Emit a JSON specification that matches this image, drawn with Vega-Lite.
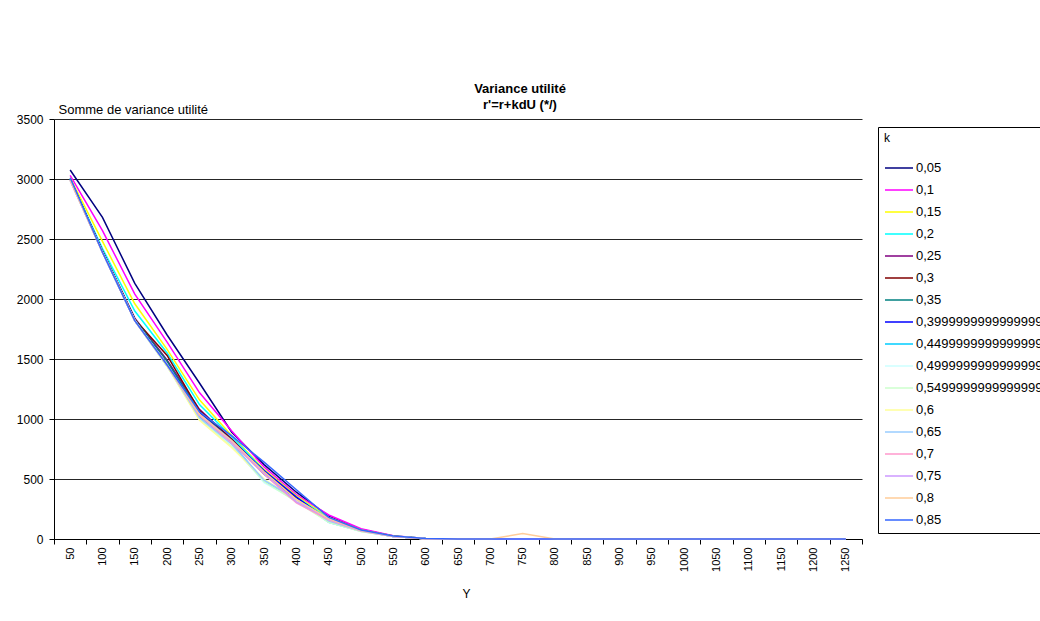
{
  "$schema": "https://vega.github.io/schema/vega-lite/v6.json",
  "autosize": {"type": "none"},
  "padding": {"left": 54, "top": 119, "right": 178, "bottom": 82},
  "width": 808,
  "height": 420,
  "background": "white",
  "config": {
    "font": "Liberation Sans",
    "view": {"stroke": null}
  },
  "title": {
    "text": ["Variance utilité", "r'=r+kdU (*/)"],
    "fontSize": 13,
    "fontWeight": "bold",
    "font": "Liberation Sans",
    "anchor": "middle",
    "frame": "group",
    "dx": 62,
    "offset": -9,
    "lineHeight": 16,
    "color": "black"
  },
  "data": {"values": [
{"k":"0,05","Y":50,"v":3075},{"k":"0,05","Y":100,"v":2680},{"k":"0,05","Y":150,"v":2130},{"k":"0,05","Y":200,"v":1700},{"k":"0,05","Y":250,"v":1300},{"k":"0,05","Y":300,"v":890},{"k":"0,05","Y":350,"v":620},{"k":"0,05","Y":400,"v":390},{"k":"0,05","Y":450,"v":190},{"k":"0,05","Y":500,"v":80},{"k":"0,05","Y":550,"v":25},{"k":"0,05","Y":600,"v":5},{"k":"0,05","Y":650,"v":0},{"k":"0,05","Y":700,"v":0},{"k":"0,05","Y":750,"v":0},{"k":"0,05","Y":800,"v":0},{"k":"0,05","Y":850,"v":0},{"k":"0,05","Y":900,"v":0},{"k":"0,05","Y":950,"v":0},{"k":"0,05","Y":1000,"v":0},{"k":"0,05","Y":1050,"v":0},{"k":"0,05","Y":1100,"v":0},{"k":"0,05","Y":1150,"v":0},{"k":"0,05","Y":1200,"v":0},{"k":"0,05","Y":1250,"v":0},
{"k":"0,1","Y":50,"v":3030},{"k":"0,1","Y":100,"v":2570},{"k":"0,1","Y":150,"v":2040},{"k":"0,1","Y":200,"v":1640},{"k":"0,1","Y":250,"v":1220},{"k":"0,1","Y":300,"v":900},{"k":"0,1","Y":350,"v":600},{"k":"0,1","Y":400,"v":370},{"k":"0,1","Y":450,"v":200},{"k":"0,1","Y":500,"v":85},{"k":"0,1","Y":550,"v":28},{"k":"0,1","Y":600,"v":5},{"k":"0,1","Y":650,"v":0},{"k":"0,1","Y":700,"v":0},{"k":"0,1","Y":750,"v":0},{"k":"0,1","Y":800,"v":0},{"k":"0,1","Y":850,"v":0},{"k":"0,1","Y":900,"v":0},{"k":"0,1","Y":950,"v":0},{"k":"0,1","Y":1000,"v":0},{"k":"0,1","Y":1050,"v":0},{"k":"0,1","Y":1100,"v":0},{"k":"0,1","Y":1150,"v":0},{"k":"0,1","Y":1200,"v":0},{"k":"0,1","Y":1250,"v":0},
{"k":"0,15","Y":50,"v":3010},{"k":"0,15","Y":100,"v":2480},{"k":"0,15","Y":150,"v":1960},{"k":"0,15","Y":200,"v":1580},{"k":"0,15","Y":250,"v":1160},{"k":"0,15","Y":300,"v":860},{"k":"0,15","Y":350,"v":580},{"k":"0,15","Y":400,"v":360},{"k":"0,15","Y":450,"v":180},{"k":"0,15","Y":500,"v":75},{"k":"0,15","Y":550,"v":25},{"k":"0,15","Y":600,"v":4},{"k":"0,15","Y":650,"v":0},{"k":"0,15","Y":700,"v":0},{"k":"0,15","Y":750,"v":0},{"k":"0,15","Y":800,"v":0},{"k":"0,15","Y":850,"v":0},{"k":"0,15","Y":900,"v":0},{"k":"0,15","Y":950,"v":0},{"k":"0,15","Y":1000,"v":0},{"k":"0,15","Y":1050,"v":0},{"k":"0,15","Y":1100,"v":0},{"k":"0,15","Y":1150,"v":0},{"k":"0,15","Y":1200,"v":0},{"k":"0,15","Y":1250,"v":0},
{"k":"0,2","Y":50,"v":3000},{"k":"0,2","Y":100,"v":2420},{"k":"0,2","Y":150,"v":1900},{"k":"0,2","Y":200,"v":1550},{"k":"0,2","Y":250,"v":1120},{"k":"0,2","Y":300,"v":850},{"k":"0,2","Y":350,"v":570},{"k":"0,2","Y":400,"v":350},{"k":"0,2","Y":450,"v":170},{"k":"0,2","Y":500,"v":72},{"k":"0,2","Y":550,"v":24},{"k":"0,2","Y":600,"v":4},{"k":"0,2","Y":650,"v":0},{"k":"0,2","Y":700,"v":0},{"k":"0,2","Y":750,"v":0},{"k":"0,2","Y":800,"v":0},{"k":"0,2","Y":850,"v":0},{"k":"0,2","Y":900,"v":0},{"k":"0,2","Y":950,"v":0},{"k":"0,2","Y":1000,"v":0},{"k":"0,2","Y":1050,"v":0},{"k":"0,2","Y":1100,"v":0},{"k":"0,2","Y":1150,"v":0},{"k":"0,2","Y":1200,"v":0},{"k":"0,2","Y":1250,"v":0},
{"k":"0,25","Y":50,"v":3000},{"k":"0,25","Y":100,"v":2400},{"k":"0,25","Y":150,"v":1840},{"k":"0,25","Y":200,"v":1490},{"k":"0,25","Y":250,"v":1080},{"k":"0,25","Y":300,"v":830},{"k":"0,25","Y":350,"v":560},{"k":"0,25","Y":400,"v":340},{"k":"0,25","Y":450,"v":160},{"k":"0,25","Y":500,"v":70},{"k":"0,25","Y":550,"v":22},{"k":"0,25","Y":600,"v":3},{"k":"0,25","Y":650,"v":0},{"k":"0,25","Y":700,"v":0},{"k":"0,25","Y":750,"v":0},{"k":"0,25","Y":800,"v":0},{"k":"0,25","Y":850,"v":0},{"k":"0,25","Y":900,"v":0},{"k":"0,25","Y":950,"v":0},{"k":"0,25","Y":1000,"v":0},{"k":"0,25","Y":1050,"v":0},{"k":"0,25","Y":1100,"v":0},{"k":"0,25","Y":1150,"v":0},{"k":"0,25","Y":1200,"v":0},{"k":"0,25","Y":1250,"v":0},
{"k":"0,3","Y":50,"v":3000},{"k":"0,3","Y":100,"v":2400},{"k":"0,3","Y":150,"v":1830},{"k":"0,3","Y":200,"v":1530},{"k":"0,3","Y":250,"v":1070},{"k":"0,3","Y":300,"v":830},{"k":"0,3","Y":350,"v":550},{"k":"0,3","Y":400,"v":340},{"k":"0,3","Y":450,"v":160},{"k":"0,3","Y":500,"v":70},{"k":"0,3","Y":550,"v":22},{"k":"0,3","Y":600,"v":3},{"k":"0,3","Y":650,"v":0},{"k":"0,3","Y":700,"v":0},{"k":"0,3","Y":750,"v":0},{"k":"0,3","Y":800,"v":0},{"k":"0,3","Y":850,"v":0},{"k":"0,3","Y":900,"v":0},{"k":"0,3","Y":950,"v":0},{"k":"0,3","Y":1000,"v":0},{"k":"0,3","Y":1050,"v":0},{"k":"0,3","Y":1100,"v":0},{"k":"0,3","Y":1150,"v":0},{"k":"0,3","Y":1200,"v":0},{"k":"0,3","Y":1250,"v":0},
{"k":"0,35","Y":50,"v":3000},{"k":"0,35","Y":100,"v":2400},{"k":"0,35","Y":150,"v":1830},{"k":"0,35","Y":200,"v":1480},{"k":"0,35","Y":250,"v":1060},{"k":"0,35","Y":300,"v":820},{"k":"0,35","Y":350,"v":540},{"k":"0,35","Y":400,"v":330},{"k":"0,35","Y":450,"v":150},{"k":"0,35","Y":500,"v":68},{"k":"0,35","Y":550,"v":20},{"k":"0,35","Y":600,"v":3},{"k":"0,35","Y":650,"v":0},{"k":"0,35","Y":700,"v":0},{"k":"0,35","Y":750,"v":0},{"k":"0,35","Y":800,"v":0},{"k":"0,35","Y":850,"v":0},{"k":"0,35","Y":900,"v":0},{"k":"0,35","Y":950,"v":0},{"k":"0,35","Y":1000,"v":0},{"k":"0,35","Y":1050,"v":0},{"k":"0,35","Y":1100,"v":0},{"k":"0,35","Y":1150,"v":0},{"k":"0,35","Y":1200,"v":0},{"k":"0,35","Y":1250,"v":0},
{"k":"0,39999999999999997","Y":50,"v":3000},{"k":"0,39999999999999997","Y":100,"v":2390},{"k":"0,39999999999999997","Y":150,"v":1820},{"k":"0,39999999999999997","Y":200,"v":1450},{"k":"0,39999999999999997","Y":250,"v":1050},{"k":"0,39999999999999997","Y":300,"v":820},{"k":"0,39999999999999997","Y":350,"v":570},{"k":"0,39999999999999997","Y":400,"v":350},{"k":"0,39999999999999997","Y":450,"v":150},{"k":"0,39999999999999997","Y":500,"v":70},{"k":"0,39999999999999997","Y":550,"v":20},{"k":"0,39999999999999997","Y":600,"v":3},{"k":"0,39999999999999997","Y":650,"v":0},{"k":"0,39999999999999997","Y":700,"v":0},{"k":"0,39999999999999997","Y":750,"v":0},{"k":"0,39999999999999997","Y":800,"v":0},{"k":"0,39999999999999997","Y":850,"v":0},{"k":"0,39999999999999997","Y":900,"v":0},{"k":"0,39999999999999997","Y":950,"v":0},{"k":"0,39999999999999997","Y":1000,"v":0},{"k":"0,39999999999999997","Y":1050,"v":0},{"k":"0,39999999999999997","Y":1100,"v":0},{"k":"0,39999999999999997","Y":1150,"v":0},{"k":"0,39999999999999997","Y":1200,"v":0},{"k":"0,39999999999999997","Y":1250,"v":0},
{"k":"0,44999999999999996","Y":50,"v":3000},{"k":"0,44999999999999996","Y":100,"v":2390},{"k":"0,44999999999999996","Y":150,"v":1820},{"k":"0,44999999999999996","Y":200,"v":1440},{"k":"0,44999999999999996","Y":250,"v":1020},{"k":"0,44999999999999996","Y":300,"v":800},{"k":"0,44999999999999996","Y":350,"v":480},{"k":"0,44999999999999996","Y":400,"v":330},{"k":"0,44999999999999996","Y":450,"v":140},{"k":"0,44999999999999996","Y":500,"v":65},{"k":"0,44999999999999996","Y":550,"v":20},{"k":"0,44999999999999996","Y":600,"v":3},{"k":"0,44999999999999996","Y":650,"v":0},{"k":"0,44999999999999996","Y":700,"v":0},{"k":"0,44999999999999996","Y":750,"v":0},{"k":"0,44999999999999996","Y":800,"v":0},{"k":"0,44999999999999996","Y":850,"v":0},{"k":"0,44999999999999996","Y":900,"v":0},{"k":"0,44999999999999996","Y":950,"v":0},{"k":"0,44999999999999996","Y":1000,"v":0},{"k":"0,44999999999999996","Y":1050,"v":0},{"k":"0,44999999999999996","Y":1100,"v":0},{"k":"0,44999999999999996","Y":1150,"v":0},{"k":"0,44999999999999996","Y":1200,"v":0},{"k":"0,44999999999999996","Y":1250,"v":0},
{"k":"0,49999999999999994","Y":50,"v":2990},{"k":"0,49999999999999994","Y":100,"v":2390},{"k":"0,49999999999999994","Y":150,"v":1820},{"k":"0,49999999999999994","Y":200,"v":1440},{"k":"0,49999999999999994","Y":250,"v":1000},{"k":"0,49999999999999994","Y":300,"v":790},{"k":"0,49999999999999994","Y":350,"v":470},{"k":"0,49999999999999994","Y":400,"v":320},{"k":"0,49999999999999994","Y":450,"v":140},{"k":"0,49999999999999994","Y":500,"v":65},{"k":"0,49999999999999994","Y":550,"v":20},{"k":"0,49999999999999994","Y":600,"v":3},{"k":"0,49999999999999994","Y":650,"v":0},{"k":"0,49999999999999994","Y":700,"v":0},{"k":"0,49999999999999994","Y":750,"v":0},{"k":"0,49999999999999994","Y":800,"v":0},{"k":"0,49999999999999994","Y":850,"v":0},{"k":"0,49999999999999994","Y":900,"v":0},{"k":"0,49999999999999994","Y":950,"v":0},{"k":"0,49999999999999994","Y":1000,"v":0},{"k":"0,49999999999999994","Y":1050,"v":0},{"k":"0,49999999999999994","Y":1100,"v":0},{"k":"0,49999999999999994","Y":1150,"v":0},{"k":"0,49999999999999994","Y":1200,"v":0},{"k":"0,49999999999999994","Y":1250,"v":0},
{"k":"0,54999999999999993","Y":50,"v":2990},{"k":"0,54999999999999993","Y":100,"v":2390},{"k":"0,54999999999999993","Y":150,"v":1820},{"k":"0,54999999999999993","Y":200,"v":1440},{"k":"0,54999999999999993","Y":250,"v":1000},{"k":"0,54999999999999993","Y":300,"v":770},{"k":"0,54999999999999993","Y":350,"v":480},{"k":"0,54999999999999993","Y":400,"v":310},{"k":"0,54999999999999993","Y":450,"v":140},{"k":"0,54999999999999993","Y":500,"v":62},{"k":"0,54999999999999993","Y":550,"v":20},{"k":"0,54999999999999993","Y":600,"v":3},{"k":"0,54999999999999993","Y":650,"v":0},{"k":"0,54999999999999993","Y":700,"v":0},{"k":"0,54999999999999993","Y":750,"v":0},{"k":"0,54999999999999993","Y":800,"v":0},{"k":"0,54999999999999993","Y":850,"v":0},{"k":"0,54999999999999993","Y":900,"v":0},{"k":"0,54999999999999993","Y":950,"v":0},{"k":"0,54999999999999993","Y":1000,"v":0},{"k":"0,54999999999999993","Y":1050,"v":0},{"k":"0,54999999999999993","Y":1100,"v":0},{"k":"0,54999999999999993","Y":1150,"v":0},{"k":"0,54999999999999993","Y":1200,"v":0},{"k":"0,54999999999999993","Y":1250,"v":0},
{"k":"0,6","Y":50,"v":2990},{"k":"0,6","Y":100,"v":2390},{"k":"0,6","Y":150,"v":1820},{"k":"0,6","Y":200,"v":1440},{"k":"0,6","Y":250,"v":990},{"k":"0,6","Y":300,"v":760},{"k":"0,6","Y":350,"v":500},{"k":"0,6","Y":400,"v":320},{"k":"0,6","Y":450,"v":150},{"k":"0,6","Y":500,"v":65},{"k":"0,6","Y":550,"v":20},{"k":"0,6","Y":600,"v":3},{"k":"0,6","Y":650,"v":0},{"k":"0,6","Y":700,"v":0},{"k":"0,6","Y":750,"v":0},{"k":"0,6","Y":800,"v":0},{"k":"0,6","Y":850,"v":0},{"k":"0,6","Y":900,"v":0},{"k":"0,6","Y":950,"v":0},{"k":"0,6","Y":1000,"v":0},{"k":"0,6","Y":1050,"v":0},{"k":"0,6","Y":1100,"v":0},{"k":"0,6","Y":1150,"v":0},{"k":"0,6","Y":1200,"v":0},{"k":"0,6","Y":1250,"v":0},
{"k":"0,65","Y":50,"v":2990},{"k":"0,65","Y":100,"v":2390},{"k":"0,65","Y":150,"v":1820},{"k":"0,65","Y":200,"v":1450},{"k":"0,65","Y":250,"v":1010},{"k":"0,65","Y":300,"v":790},{"k":"0,65","Y":350,"v":490},{"k":"0,65","Y":400,"v":330},{"k":"0,65","Y":450,"v":150},{"k":"0,65","Y":500,"v":66},{"k":"0,65","Y":550,"v":20},{"k":"0,65","Y":600,"v":3},{"k":"0,65","Y":650,"v":0},{"k":"0,65","Y":700,"v":0},{"k":"0,65","Y":750,"v":0},{"k":"0,65","Y":800,"v":0},{"k":"0,65","Y":850,"v":0},{"k":"0,65","Y":900,"v":0},{"k":"0,65","Y":950,"v":0},{"k":"0,65","Y":1000,"v":0},{"k":"0,65","Y":1050,"v":0},{"k":"0,65","Y":1100,"v":0},{"k":"0,65","Y":1150,"v":0},{"k":"0,65","Y":1200,"v":0},{"k":"0,65","Y":1250,"v":0},
{"k":"0,7","Y":50,"v":2990},{"k":"0,7","Y":100,"v":2390},{"k":"0,7","Y":150,"v":1820},{"k":"0,7","Y":200,"v":1450},{"k":"0,7","Y":250,"v":1030},{"k":"0,7","Y":300,"v":800},{"k":"0,7","Y":350,"v":540},{"k":"0,7","Y":400,"v":300},{"k":"0,7","Y":450,"v":160},{"k":"0,7","Y":500,"v":68},{"k":"0,7","Y":550,"v":20},{"k":"0,7","Y":600,"v":3},{"k":"0,7","Y":650,"v":0},{"k":"0,7","Y":700,"v":0},{"k":"0,7","Y":750,"v":0},{"k":"0,7","Y":800,"v":0},{"k":"0,7","Y":850,"v":0},{"k":"0,7","Y":900,"v":0},{"k":"0,7","Y":950,"v":0},{"k":"0,7","Y":1000,"v":0},{"k":"0,7","Y":1050,"v":0},{"k":"0,7","Y":1100,"v":0},{"k":"0,7","Y":1150,"v":0},{"k":"0,7","Y":1200,"v":0},{"k":"0,7","Y":1250,"v":0},
{"k":"0,75","Y":50,"v":2990},{"k":"0,75","Y":100,"v":2390},{"k":"0,75","Y":150,"v":1820},{"k":"0,75","Y":200,"v":1450},{"k":"0,75","Y":250,"v":1040},{"k":"0,75","Y":300,"v":810},{"k":"0,75","Y":350,"v":550},{"k":"0,75","Y":400,"v":310},{"k":"0,75","Y":450,"v":170},{"k":"0,75","Y":500,"v":70},{"k":"0,75","Y":550,"v":20},{"k":"0,75","Y":600,"v":3},{"k":"0,75","Y":650,"v":0},{"k":"0,75","Y":700,"v":0},{"k":"0,75","Y":750,"v":0},{"k":"0,75","Y":800,"v":0},{"k":"0,75","Y":850,"v":0},{"k":"0,75","Y":900,"v":0},{"k":"0,75","Y":950,"v":0},{"k":"0,75","Y":1000,"v":0},{"k":"0,75","Y":1050,"v":0},{"k":"0,75","Y":1100,"v":0},{"k":"0,75","Y":1150,"v":0},{"k":"0,75","Y":1200,"v":0},{"k":"0,75","Y":1250,"v":0},
{"k":"0,8","Y":50,"v":2990},{"k":"0,8","Y":100,"v":2390},{"k":"0,8","Y":150,"v":1820},{"k":"0,8","Y":200,"v":1450},{"k":"0,8","Y":250,"v":1040},{"k":"0,8","Y":300,"v":820},{"k":"0,8","Y":350,"v":560},{"k":"0,8","Y":400,"v":330},{"k":"0,8","Y":450,"v":170},{"k":"0,8","Y":500,"v":70},{"k":"0,8","Y":550,"v":22},{"k":"0,8","Y":600,"v":3},{"k":"0,8","Y":650,"v":0},{"k":"0,8","Y":700,"v":0},{"k":"0,8","Y":750,"v":45},{"k":"0,8","Y":800,"v":0},{"k":"0,8","Y":850,"v":0},{"k":"0,8","Y":900,"v":0},{"k":"0,8","Y":950,"v":0},{"k":"0,8","Y":1000,"v":0},{"k":"0,8","Y":1050,"v":0},{"k":"0,8","Y":1100,"v":0},{"k":"0,8","Y":1150,"v":0},{"k":"0,8","Y":1200,"v":0},{"k":"0,8","Y":1250,"v":0},
{"k":"0,85","Y":50,"v":3010},{"k":"0,85","Y":100,"v":2390},{"k":"0,85","Y":150,"v":1820},{"k":"0,85","Y":200,"v":1450},{"k":"0,85","Y":250,"v":1060},{"k":"0,85","Y":300,"v":860},{"k":"0,85","Y":350,"v":640},{"k":"0,85","Y":400,"v":410},{"k":"0,85","Y":450,"v":180},{"k":"0,85","Y":500,"v":75},{"k":"0,85","Y":550,"v":25},{"k":"0,85","Y":600,"v":4},{"k":"0,85","Y":650,"v":0},{"k":"0,85","Y":700,"v":0},{"k":"0,85","Y":750,"v":0},{"k":"0,85","Y":800,"v":0},{"k":"0,85","Y":850,"v":0},{"k":"0,85","Y":900,"v":0},{"k":"0,85","Y":950,"v":0},{"k":"0,85","Y":1000,"v":0},{"k":"0,85","Y":1050,"v":0},{"k":"0,85","Y":1100,"v":0},{"k":"0,85","Y":1150,"v":0},{"k":"0,85","Y":1200,"v":0},{"k":"0,85","Y":1250,"v":0}
  ]},
  "mark": {"type": "line", "strokeWidth": 1.5, "clip": false},
  "encoding": {
    "x": {
      "field": "Y", "type": "ordinal", "sort": "ascending",
      "scale": {"paddingInner": 0, "paddingOuter": 0},
      "axis": {
        "title": "Y", "titleFontSize": 12, "titleFontWeight": "normal", "titleColor": "black",
        "titleX": 412, "titleY": 54, "titleBaseline": "middle", "titleAlign": "center",
        "labelAngle": -90, "labelFontSize": 11, "labelColor": "black", "labelPadding": 3,
        "domainColor": "black", "tickColor": "black", "tickSize": 5, "tickBand": "extent",
        "grid": false
      }
    },
    "y": {
      "field": "v", "type": "quantitative",
      "scale": {"domain": [0, 3500], "nice": false},
      "axis": {
        "values": [0, 500, 1000, 1500, 2000, 2500, 3000, 3500],
        "format": "d",
        "title": "Somme de variance utilité", "titleAngle": 0, "titleFontSize": 13, "titleFontWeight": "normal", "titleColor": "black",
        "titleX": 4, "titleY": -3, "titleAlign": "left", "titleBaseline": "bottom",
        "labelFontSize": 12, "labelColor": "black", "labelPadding": 6,
        "domainColor": "black", "tickColor": "black", "tickSize": 5,
        "grid": true, "gridColor": "black", "gridOpacity": 0.85
      }
    },
    "color": {
      "field": "k", "type": "nominal",
      "scale": {
        "domain": ["0,05","0,1","0,15","0,2","0,25","0,3","0,35","0,39999999999999997","0,44999999999999996","0,49999999999999994","0,54999999999999993","0,6","0,65","0,7","0,75","0,8","0,85"],
        "range": ["#000080","#FF00FF","#FFFF00","#00FFFF","#800080","#800000","#008080","#0000FF","#00CCFF","#CCFFFF","#CCFFCC","#FFFF99","#99CCFF","#FF99CC","#CC99FF","#FFCC99","#3366FF"]
      },
      "legend": {
        "orient": "none", "legendX": 824, "legendY": 8,
        "title": "k", "titleFontSize": 12, "titleFontWeight": "normal", "titleColor": "black", "titlePadding": 8,
        "labelFontSize": 13, "labelColor": "black", "labelOffset": 2, "labelLimit": 400,
        "symbolType": "stroke", "symbolSize": 784, "symbolStrokeWidth": 1.5,
        "strokeColor": "black", "fillColor": "white", "padding": 6, "rowPadding": 0
      }
    }
  }
}
